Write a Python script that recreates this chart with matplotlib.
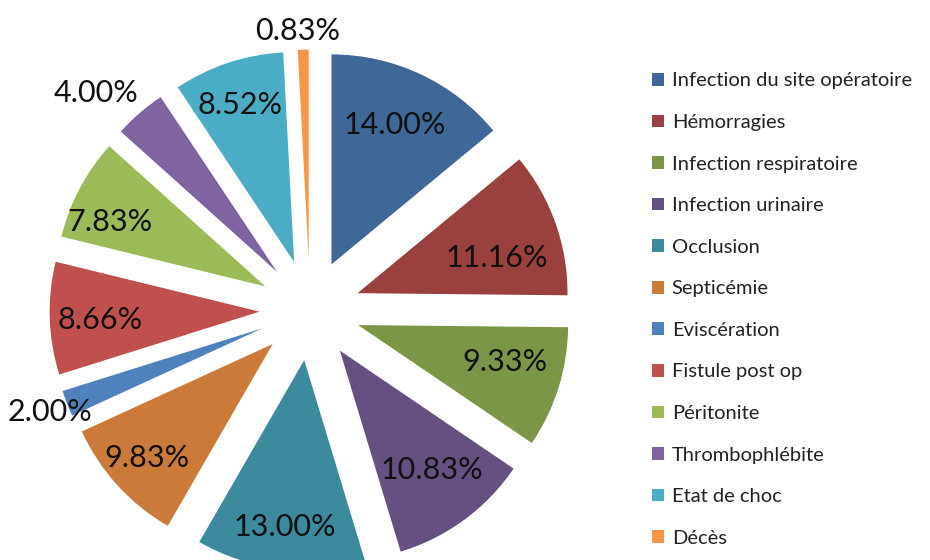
import numpy as np
import matplotlib
matplotlib.use('Agg')
import matplotlib.pyplot as plt

# ---------- datos ----------
categories = ['Infection du site opératoire', 'Hémorragies', 'Infection respiratoire',
              'Infection urinaire', 'Occlusion', 'Septicémie', 'Eviscération',
              'Fistule post op', 'Péritonite', 'Thrombophlébite', 'Etat de choc', 'Décès']
values = [14.00, 11.16, 9.33, 10.83, 13.00, 9.83, 2.00, 8.66, 7.83, 4.00, 8.52, 0.83]

colors = ['#3F6797', '#9A403E', '#7C9647', '#665082', '#3C8A9E', '#CC7A3A',
          '#4F81BD', '#C0504D', '#9BBB59', '#8064A2', '#4BACC6', '#F79646']

# label placement (radius from pie centre, angle nudge in degrees)
lab_r = [0.97, 0.924, 0.962, 0.957, 1.04, 1.05, 1.33, 1.0, 1.04, 1.45, 1.03, 1.33]
lab_da = [0.5, -4, 2.5, 1, 0, 0, 0.3, 0.8, 4, 3.8, 0.5, 1]

plt.rcParams['font.family'] = ['Lato', 'DejaVu Sans']

fig = plt.figure(figsize=(9.3, 5.6), dpi=100)
ax = fig.add_axes([0, 0, 1, 1])

wedges, _ = ax.pie(values, colors=colors, startangle=90, counterclock=False,
                   explode=[0.24] * len(values), radius=1,
                   wedgeprops=dict(linewidth=0))

# scale: 210 px per unit, pie centre at pixel (310, 310 from top)
ax.set_xlim(-310 / 210, 620 / 210)
ax.set_ylim(-250 / 210, 310 / 210)
ax.set_aspect('equal')
ax.axis('off')

for w, v, r, da in zip(wedges, values, lab_r, lab_da):
    ang = np.deg2rad((w.theta1 + w.theta2) / 2 + da)
    ax.text(r * np.cos(ang), r * np.sin(ang), '%.2f%%' % v,
            ha='center', va='center', fontsize=22, color='#111111')

leg = fig.legend(wedges, categories, loc='upper left', bbox_to_anchor=(0.692, 0.885),
                 frameon=False, fontsize=14.5, handlelength=0.6, handleheight=0.6,
                 handletextpad=0.4, labelspacing=1.22, borderaxespad=0)
for t in leg.get_texts():
    t.set_color('#222222')

fig.savefig('out.png', dpi=100)
